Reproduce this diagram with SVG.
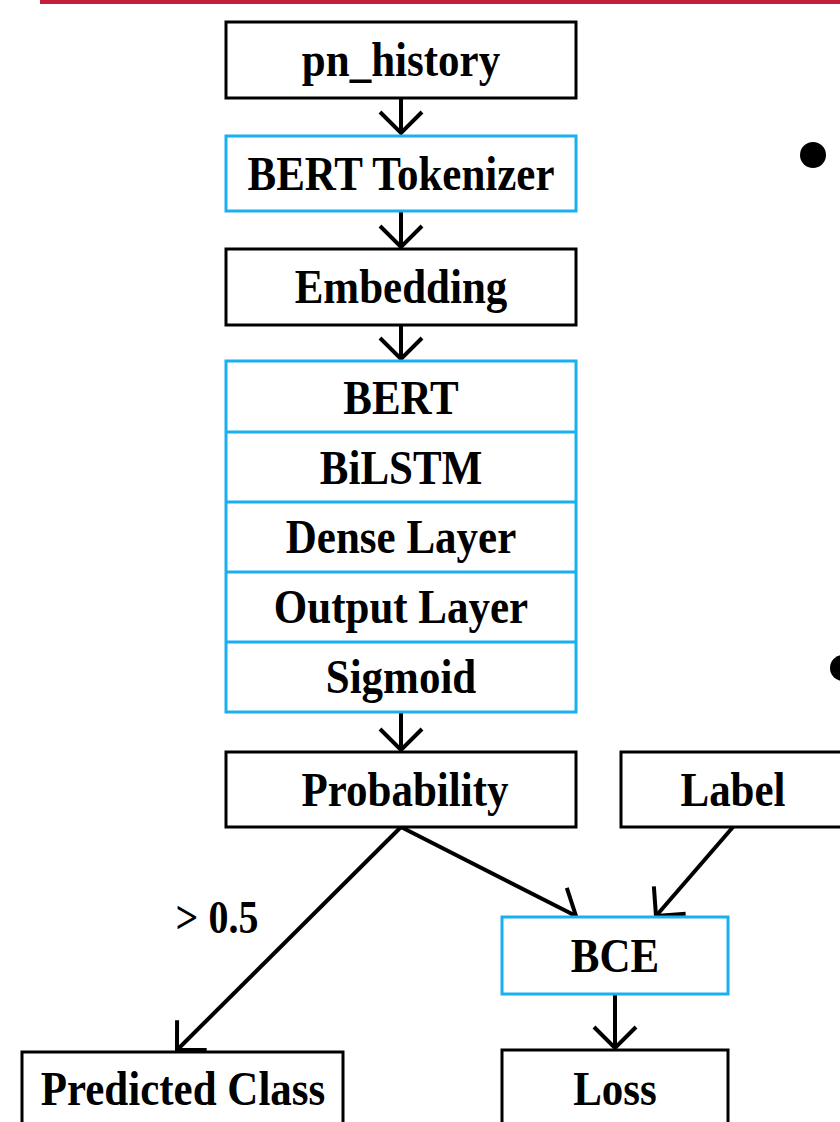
<svg xmlns="http://www.w3.org/2000/svg" width="840" height="1122" viewBox="0 0 840 1122">
<style>
.box{fill:#fff;stroke-width:3}
.blk{stroke:#000}
.blu{stroke:#1AAFEF}
.t{font-family:"Liberation Serif","Times New Roman",serif;font-weight:bold;font-size:43px;fill:#000;text-anchor:middle}
.c{fill:none;stroke:#000;stroke-width:4}
</style>
<defs>
<marker id="ah" markerUnits="userSpaceOnUse" viewBox="-26 -26 52 52" markerWidth="52" markerHeight="52" refX="0" refY="0" orient="auto">
<path d="M-21 -21 L0 0 L-21 21" fill="none" stroke="#000" stroke-width="4" stroke-linejoin="miter"/>
</marker>
</defs>
<rect x="40" y="0" width="800" height="4" fill="#C41E3A"/>
<circle cx="813" cy="155" r="13" fill="#000"/>
<circle cx="843" cy="668" r="13" fill="#000"/>
<g id="connectors">
<line class="c" x1="401" y1="98" x2="401" y2="133" marker-end="url(#ah)"/>
<line class="c" x1="401" y1="211" x2="401" y2="247" marker-end="url(#ah)"/>
<line class="c" x1="401" y1="325" x2="401" y2="359" marker-end="url(#ah)"/>
<line class="c" x1="401" y1="712" x2="401" y2="750" marker-end="url(#ah)"/>
<line class="c" x1="401" y1="827" x2="576" y2="916" marker-end="url(#ah)"/>
<line class="c" x1="401" y1="827" x2="177" y2="1050" marker-end="url(#ah)"/>
<line class="c" x1="733" y1="827" x2="656" y2="916" marker-end="url(#ah)"/>
<line class="c" x1="615" y1="994" x2="615" y2="1048" marker-end="url(#ah)"/>
<text class="t" transform="translate(217 933) scale(1 1.15)" style="font-size:40px">&gt; 0.5</text>
</g>
<g id="pn_history">
<rect class="box blk" x="226" y="22" width="350" height="76"/>
<text class="t" transform="translate(401 76) scale(1 1.15)">pn_history</text>
</g>
<g id="bert_tokenizer">
<rect class="box blu" x="226" y="136" width="350" height="75"/>
<text class="t" transform="translate(401 190) scale(1 1.15)">BERT Tokenizer</text>
</g>
<g id="embedding">
<rect class="box blk" x="226" y="249" width="350" height="76"/>
<text class="t" transform="translate(401 303) scale(1 1.15)">Embedding</text>
</g>
<g id="model_stack">
<rect class="box blu" x="226" y="361" width="350" height="351"/>
<line class="blu" stroke-width="3" x1="226" y1="432" x2="576" y2="432"/>
<line class="blu" stroke-width="3" x1="226" y1="502" x2="576" y2="502"/>
<line class="blu" stroke-width="3" x1="226" y1="572" x2="576" y2="572"/>
<line class="blu" stroke-width="3" x1="226" y1="642" x2="576" y2="642"/>
<text class="t" transform="translate(401 414) scale(1 1.15)">BERT</text>
<text class="t" transform="translate(401 484) scale(1 1.15)">BiLSTM</text>
<text class="t" transform="translate(401 553) scale(1 1.15)">Dense Layer</text>
<text class="t" transform="translate(401 623) scale(1 1.15)">Output Layer</text>
<text class="t" transform="translate(401 693) scale(1 1.15)">Sigmoid</text>
</g>
<g id="probability">
<rect class="box blk" x="226" y="752" width="350" height="75"/>
<text class="t" transform="translate(405 806) scale(1 1.15)">Probability</text>
</g>
<g id="label">
<rect class="box blk" x="621" y="752" width="240" height="75"/>
<text class="t" transform="translate(733 806) scale(1 1.15)">Label</text>
</g>
<g id="bce">
<rect class="box blu" x="502" y="917" width="226" height="77"/>
<text class="t" transform="translate(615 972) scale(1 1.15)">BCE</text>
</g>
<g id="predicted_class">
<rect class="box blk" x="22" y="1052" width="321" height="90"/>
<text class="t" transform="translate(183 1105) scale(1 1.15)">Predicted Class</text>
</g>
<g id="loss">
<rect class="box blk" x="502" y="1050" width="226" height="90"/>
<text class="t" transform="translate(615 1105) scale(1 1.15)">Loss</text>
</g>
</svg>
